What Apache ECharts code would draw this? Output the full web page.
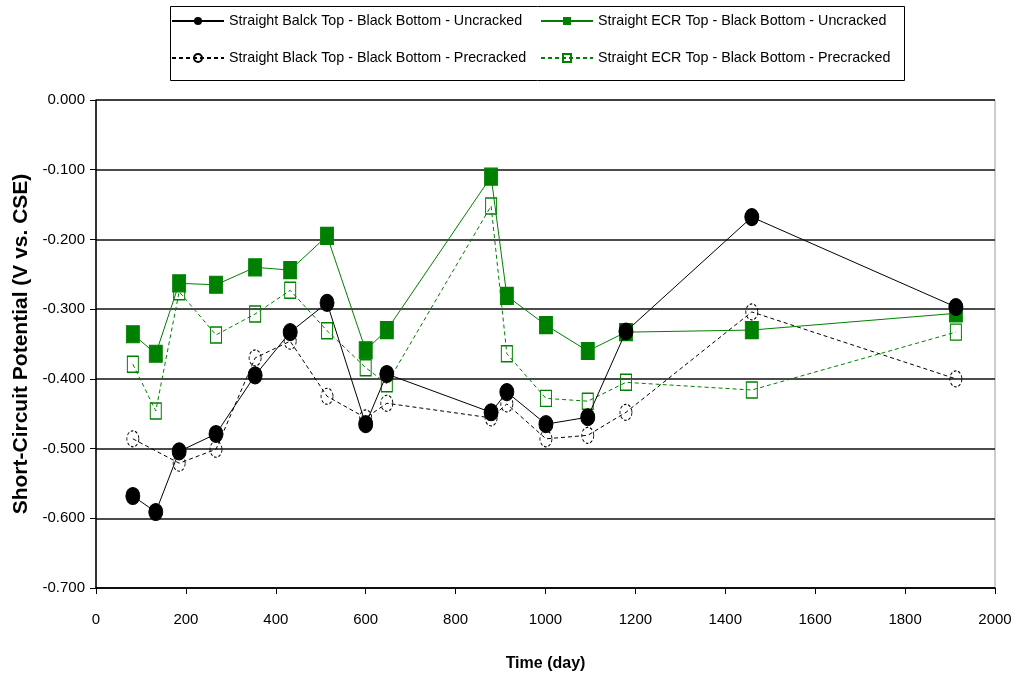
<!DOCTYPE html>
<html><head><meta charset="utf-8">
<script src="https://cdn.jsdelivr.net/npm/echarts@6/dist/echarts.min.js"></script>
<style>html,body{margin:0;padding:0;background:#fff}#c{width:1018px;height:684px}</style>
</head><body><div id="c"></div>
<script>
const days = [82, 133, 185, 267, 354, 432, 514, 600, 647, 879, 914, 1001, 1094, 1179, 1459, 1913];
const blackUncracked = [-0.568, -0.591, -0.504, -0.479, -0.395, -0.333, -0.291, -0.465, -0.393, -0.448, -0.419, -0.465, -0.455, -0.332, -0.168, -0.297];
const blackPrecrackedDays = [82, 185, 267, 354, 432, 514, 600, 647, 879, 914, 1001, 1094, 1179, 1459, 1913];
const blackPrecracked = [-0.486, -0.521, -0.501, -0.370, -0.346, -0.425, -0.456, -0.435, -0.456, -0.436, -0.486, -0.481, -0.448, -0.304, -0.400];
const ecrUncracked = [-0.336, -0.364, -0.263, -0.265, -0.240, -0.244, -0.195, -0.359, -0.330, -0.110, -0.281, -0.323, -0.360, -0.333, -0.330, -0.306];
const ecrPrecracked = [-0.379, -0.446, -0.275, -0.337, -0.307, -0.273, -0.331, -0.384, -0.407, -0.152, -0.364, -0.428, -0.432, -0.405, -0.416, -0.333];
const names = [
  'Straight Balck Top - Black Bottom - Uncracked',
  'Straight ECR Top - Black Bottom - Uncracked',
  'Straight Black Top - Black Bottom - Precracked',
  'Straight ECR Top - Black Bottom - Precracked'
];
const xTicks = [0, 200, 400, 600, 800, 1000, 1200, 1400, 1600, 1800, 2000];
const yTicks = [0, -0.1, -0.2, -0.3, -0.4, -0.5, -0.6, -0.7];

const pair = (xs, ys) => ys.map((v, i) => [xs[i], v]);
const GREEN = '#008000';
const font = '"Liberation Sans", Arial, sans-serif';

const chart = echarts.init(document.getElementById('c'));
chart.setOption({
  animation: false,
  backgroundColor: '#fff',
  graphic: [{
    type: 'rect', left: 168, top: 4,
    shape: { width: 734, height: 74 },
    style: { fill: 'none', stroke: '#000', lineWidth: 1 }
  }],
  legend: [{
    data: [names[0], names[2]],
    orient: 'vertical', left: 171, top: 14, padding: 0, itemGap: 23, itemWidth: 52, itemHeight: 10,
    textStyle: { fontFamily: font, fontSize: 14.3, color: '#000' }
  }, {
    data: [names[1], names[3]],
    orient: 'vertical', left: 540, top: 14, padding: 0, itemGap: 23, itemWidth: 52, itemHeight: 10,
    textStyle: { fontFamily: font, fontSize: 14.3, color: '#000' }
  }],
  grid: {
    left: 96, right: 23, top: 100, bottom: 96,
    outerBoundsMode: 'none', containLabel: false,
    show: true, borderColor: '#999', borderWidth: 1
  },
  xAxis: {
    type: 'value', min: 0, max: 2000, interval: 200,
    name: 'Time (day)', nameLocation: 'middle', nameGap: 68,
    nameTextStyle: { fontFamily: font, fontSize: 16, fontWeight: 'bold', color: '#000' },
    axisLine: { onZero: false, lineStyle: { color: '#000', width: 1.5 } },
    axisTick: { show: true, length: 6, lineStyle: { color: '#000' } },
    axisLabel: { fontFamily: font, fontSize: 15, color: '#000', margin: 24,
      formatter: v => xTicks.includes(v) ? String(v) : '' },
    splitLine: { show: false }
  },
  yAxis: {
    type: 'value', min: -0.7, max: 0, interval: 0.1,
    name: 'Short-Circuit Potential (V vs. CSE)', nameLocation: 'middle', nameGap: 64,
    nameTextStyle: { fontFamily: font, fontSize: 21, fontWeight: 'bold', color: '#000' },
    axisLine: { show: true, onZero: false, lineStyle: { color: '#000', width: 1.5 } },
    axisTick: { show: true, length: 6, lineStyle: { color: '#000' } },
    axisLabel: { fontFamily: font, fontSize: 15, color: '#000', margin: 11,
      formatter: v => { const t = yTicks.find(k => Math.abs(k - v) < 1e-9); return t === undefined ? '' : t.toFixed(3); } },
    splitLine: { show: true, lineStyle: { color: '#111', width: 1.5 } }
  },
  series: [{
    name: names[0], type: 'line', data: pair(days, blackUncracked),
    symbol: 'circle', symbolSize: [14, 17], z: 5,
    lineStyle: { color: '#000', width: 1 },
    itemStyle: { color: '#000', borderColor: '#000' }
  }, {
    name: names[1], type: 'line', data: pair(days, ecrUncracked),
    symbol: 'rect', symbolSize: [13, 17], z: 4,
    lineStyle: { color: GREEN, width: 1 },
    itemStyle: { color: GREEN, borderColor: GREEN }
  }, {
    name: names[2], type: 'line', data: pair(blackPrecrackedDays, blackPrecracked),
    symbol: 'circle', symbolSize: [12, 16], z: 3,
    lineStyle: { color: '#000', width: 1, type: [4, 3] },
    itemStyle: { color: 'rgba(255,255,255,0)', borderColor: '#000', borderWidth: 1, borderType: [3, 2] }
  }, {
    name: names[3], type: 'line', data: pair(days, ecrPrecracked),
    symbol: 'rect', symbolSize: [11, 16], z: 3,
    lineStyle: { color: GREEN, width: 1, type: [4, 3] },
    itemStyle: { color: 'rgba(255,255,255,0)', borderColor: GREEN, borderWidth: 1.2 }
  }]
});
</script></body></html>
